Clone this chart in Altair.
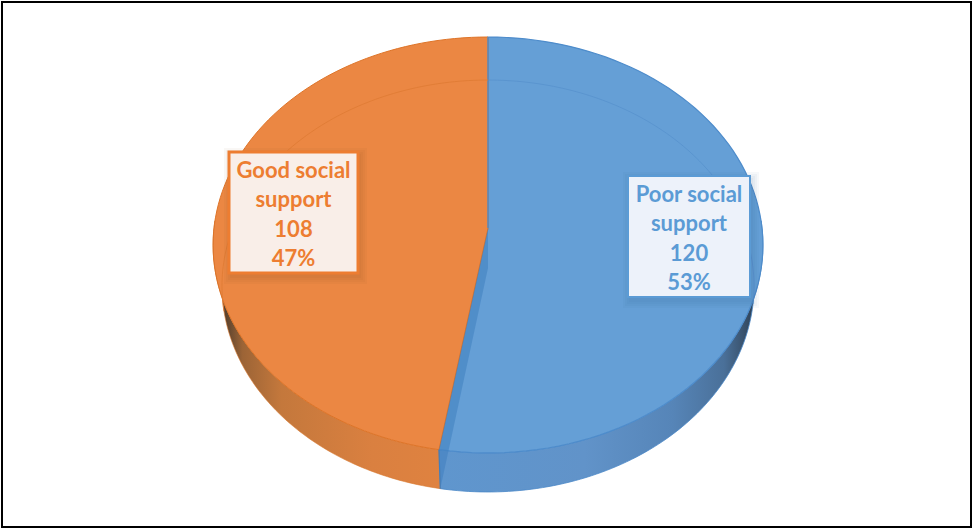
import math
import altair as alt
import pandas as pd

# Survey counts and the wording of each slice's call-out
categories = ["Good social support", "Poor social support"]
counts = [108, 120]
label_lines = [["Good social", "support"], ["Poor social", "support"]]

W, H = 973, 529
CX = 488

# Perspective disc: apex row, half-width, and foreshortening of the top and bottom faces
TOP = dict(apex=228, a=274, b=206.6, k=-0.0817)
BASE = dict(apex=268, a=265, b=204.4, k=-0.0874)

ORANGE = "#EB8743"
BLUE = "#659FD6"

total = sum(counts)
cut = 360 * counts[1] / total  # clockwise from 12 o'clock: the poor-support slice ends here


def rim(face, deg):
    t = math.radians(deg)
    u, v = math.sin(t), -math.cos(t)
    d = 1 + face["k"] * v
    return CX + face["a"] * u / d, face["apex"] + face["b"] * v / d


def arc(face, start, end, n=90):
    return [rim(face, start + (end - start) * i / n) for i in range(n + 1)]


sx = alt.Scale(domain=[0, W], range=[0, W])
sy = alt.Scale(domain=[0, H], range=[0, H])


def outline(points, closed=True, **mark):
    pts = list(points) + ([points[0]] if closed else [])
    df = pd.DataFrame({"x": [p[0] for p in pts], "y": [p[1] for p in pts], "i": range(len(pts))})
    return alt.Chart(df).mark_line(**mark).encode(
        x=alt.X("x:Q", scale=sx, axis=None),
        y=alt.Y("y:Q", scale=sy, axis=None),
        order="i:Q",
    )


def box(x0, y0, x1, y1, **mark):
    df = pd.DataFrame({"x": [x0], "x2": [x1], "y": [y0], "y2": [y1]})
    return alt.Chart(df).mark_rect(**mark).encode(
        x=alt.X("x:Q", scale=sx, axis=None),
        x2="x2:Q",
        y=alt.Y("y:Q", scale=sy, axis=None),
        y2="y2:Q",
    )


def gradient(stops):
    return alt.Gradient(
        gradient="linear", x1=0, x2=1, y1=0, y2=0,
        stops=[alt.GradientStop(offset=o, color=c) for o, c in stops],
    )


def callout(x0, y0, x1, y1, lines, color, fill, edge):
    layers = []
    # soft drop shadow built from stacked translucent rectangles
    for grow in (7, 5, 3, 1):
        layers.append(box(x0 + 2 - grow, y0 + 3 - grow, x1 + 2 + grow, y1 + 4 + grow,
                          color="#7a4a20" if color == "#ED7D31" else "#2f5f95", opacity=0.045))
    layers.append(box(x0, y0, x1, y1, fill=fill, stroke=color, strokeWidth=edge))
    df = pd.DataFrame({
        "t": lines,
        "x": [(x0 + x1) / 2] * len(lines),
        "y": [y0 + 19 + 29.4 * i for i in range(len(lines))],
    })
    layers.append(alt.Chart(df).mark_text(
        font="Lato", fontWeight="bold", fontSize=22, color=color, align="center", baseline="middle",
    ).encode(x=alt.X("x:Q", scale=sx, axis=None), y=alt.Y("y:Q", scale=sy, axis=None), text="t:N"))
    return layers


layers = []

# Outer walls, shaded towards the silhouette edges
orange_wall = arc(TOP, cut, 272) + arc(BASE, 272, cut)
blue_wall = arc(TOP, 88, cut) + arc(BASE, cut, 88)
layers.append(outline(blue_wall, fill=gradient([
    (0, "#5F96CE"), (0.45, "#6193C9"), (0.72, "#5685B8"), (0.88, "#4A7099"), (0.94, "#3A536E"), (1, "#243040"),
]), stroke="#4A88C8", strokeWidth=0.8))
layers.append(outline(orange_wall, fill=gradient([
    (0, "#3E342C"), (0.06, "#5E442E"), (0.13, "#9C6436"), (0.3, "#C4783C"), (0.7, "#DA8040"), (1, "#DF8240"),
]), stroke="#D9782F", strokeWidth=0.6))

# Top face slices
apex = (CX, TOP["apex"])
layers.append(outline([apex] + arc(TOP, 0, cut), fill=BLUE, stroke="#4E8CCB", strokeWidth=1.2))
layers.append(outline([apex] + arc(TOP, cut, 360), fill=ORANGE, stroke="#DE7428", strokeWidth=1.0))

# Cut face showing through the translucent blue slice
base_apex = (CX, BASE["apex"])
face = [apex, base_apex, rim(BASE, cut), rim(TOP, cut)]
layers.append(outline(face, fill="#3F7FC0", fillOpacity=0.55, strokeOpacity=0, stroke="#3F7FC0"))
layers.append(outline([apex, rim(TOP, 0)], closed=False, stroke="#4E8CCB", strokeWidth=1.4))
layers.append(outline([rim(TOP, cut), rim(BASE, cut)], closed=False, stroke="#3F7FC0", strokeWidth=1.2))

# Far edge of the base, faintly visible through the top face
layers.append(outline(arc(BASE, 0, 100), closed=False, stroke="#5590CC", strokeWidth=1, opacity=0.7))
layers.append(outline(arc(BASE, 258, 360), closed=False, stroke="#DE7A33", strokeWidth=1, opacity=0.8))

# Value call-outs
pct = [round(100 * c / total) for c in counts]
layers += callout(229, 152, 358, 273, label_lines[0] + [str(counts[0]), f"{pct[0]}%"], "#ED7D31", "#F9EEE8", 3)
layers += callout(628, 176, 750, 297, label_lines[1] + [str(counts[1]), f"{pct[1]}%"], "#5B9BD5", "#EDF2FA", 2)

# Picture frame
layers.append(box(2, 2, 971, 527, fillOpacity=0, fill="#ffffff", stroke="#000000", strokeWidth=2))

chart = alt.layer(*layers).properties(
    width=W, height=H, padding=0, background="#ffffff",
    autosize=alt.AutoSizeParams(type="none"),
).configure_view(stroke=None)

chart.save("out.html", embed_options={"renderer": "svg", "actions": False})
